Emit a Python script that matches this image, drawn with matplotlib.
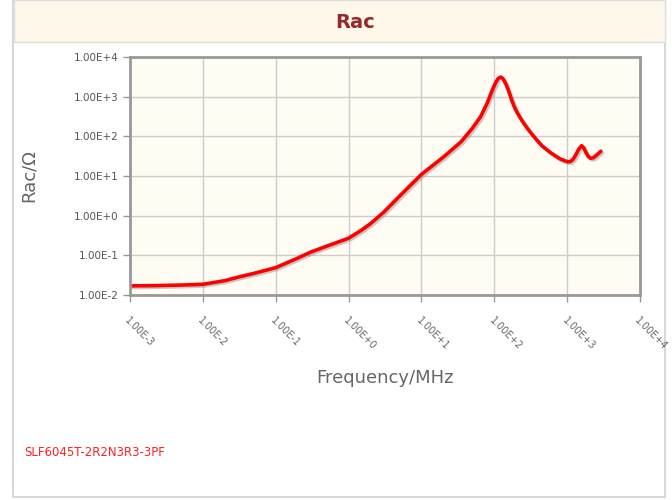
import matplotlib.pyplot as plt
import matplotlib.patches as mpatches
import matplotlib.patheffects as pe
import numpy as np

# frequency in MHz and AC resistance in ohm
freq = [0.001, 0.002, 0.005, 0.01, 0.02, 0.03, 0.05, 0.1, 0.2, 0.3, 0.5, 1.0,
        1.5, 2.0, 3.0, 5.0, 10, 20, 35, 50, 65, 80, 95, 105, 112, 118, 124,
        130, 137, 145, 155, 165, 175, 188, 200, 220, 245, 280, 320, 380, 450,
        600, 800, 1000, 1100, 1200, 1300, 1450, 1580, 1680, 1800, 1950, 2100,
        2300, 2550, 2900]
rac = [0.017, 0.0172, 0.0178, 0.0186, 0.023, 0.028, 0.035, 0.049, 0.085,
       0.12, 0.17, 0.27, 0.43, 0.63, 1.2, 3.1, 11, 30, 73, 160, 315, 690,
       1550, 2300, 2800, 3050, 3100, 2900, 2500, 2050, 1500, 1080, 780, 560,
       440, 320, 235, 165, 120, 82, 58, 38, 27, 23, 23, 26, 33, 48, 58, 52,
       40, 31, 28, 29, 34, 42]

xticks = [1e-3, 1e-2, 1e-1, 1e0, 1e1, 1e2, 1e3, 1e4]
yticks = [1e-2, 1e-1, 1e0, 1e1, 1e2, 1e3, 1e4]


def sci(v):
    e = int(np.round(np.log10(v)))
    return "1.00E%s%d" % ("+" if e >= 0 else "-", abs(e))


fig = plt.figure(figsize=(6.72, 5.0), dpi=100)
fig.patch.set_facecolor("white")

# panel frame and header band
fig.patches.append(mpatches.Rectangle((13 / 672, 0.006), 652 / 672, 0.994,
                                      transform=fig.transFigure, facecolor="white",
                                      edgecolor="#d8d8d8", lw=1.5, zorder=-2))
fig.patches.append(mpatches.Rectangle((14 / 672, 1 - 42 / 500), 651 / 672, 42 / 500,
                                      transform=fig.transFigure, facecolor="#fdf8ea",
                                      edgecolor="#dedede", lw=1, zorder=-1))
fig.text(355 / 672, 1 - 22 / 500, "Rac", ha="center", va="center",
         fontsize=14, fontweight="bold", color="#96292b")

ax = fig.add_axes([130 / 672, 1 - 295 / 500, 510 / 672, 238 / 500])
ax.set_zorder(1)
ax.set_facecolor("#fffcf4")
ax.set_xscale("log")
ax.set_yscale("log")
ax.set_xlim(1e-3, 1e4)
ax.set_ylim(1e-2, 1e4)

ax.plot(freq, rac, color="#ff0000", lw=2.6, solid_capstyle="round",
        solid_joinstyle="round",
        path_effects=[pe.SimpleLineShadow(offset=(1.2, -1.2), shadow_color="#888888", alpha=0.45),
                      pe.Normal()])

ax.set_xticks(xticks)
ax.set_yticks(yticks)
ax.minorticks_off()
ax.set_xticklabels([sci(v) for v in xticks], rotation=-45, ha="left", va="top",
                   rotation_mode="anchor", fontsize=7, color="#666666")
ax.set_yticklabels([sci(v) for v in yticks], fontsize=7.5, color="#555555")
ax.tick_params(axis="both", length=5, color="#999999", width=1)
ax.tick_params(axis="x", pad=10)
ax.grid(True, color="#cccccc", lw=1)
for s in ax.spines.values():
    s.set_color("#999999")
    s.set_linewidth(2)

ax.set_xlabel("Frequency/MHz", fontsize=13, color="#666666", labelpad=12)
ax.set_ylabel("Rac/Ω", fontsize=13, color="#666666", labelpad=26)

fig.text(24 / 672, 1 - 452 / 500, "SLF6045T-2R2N3R3-3PF", color="#ff2020",
         fontsize=8.5, va="center", ha="left")

fig.savefig("out.png", dpi=100)
